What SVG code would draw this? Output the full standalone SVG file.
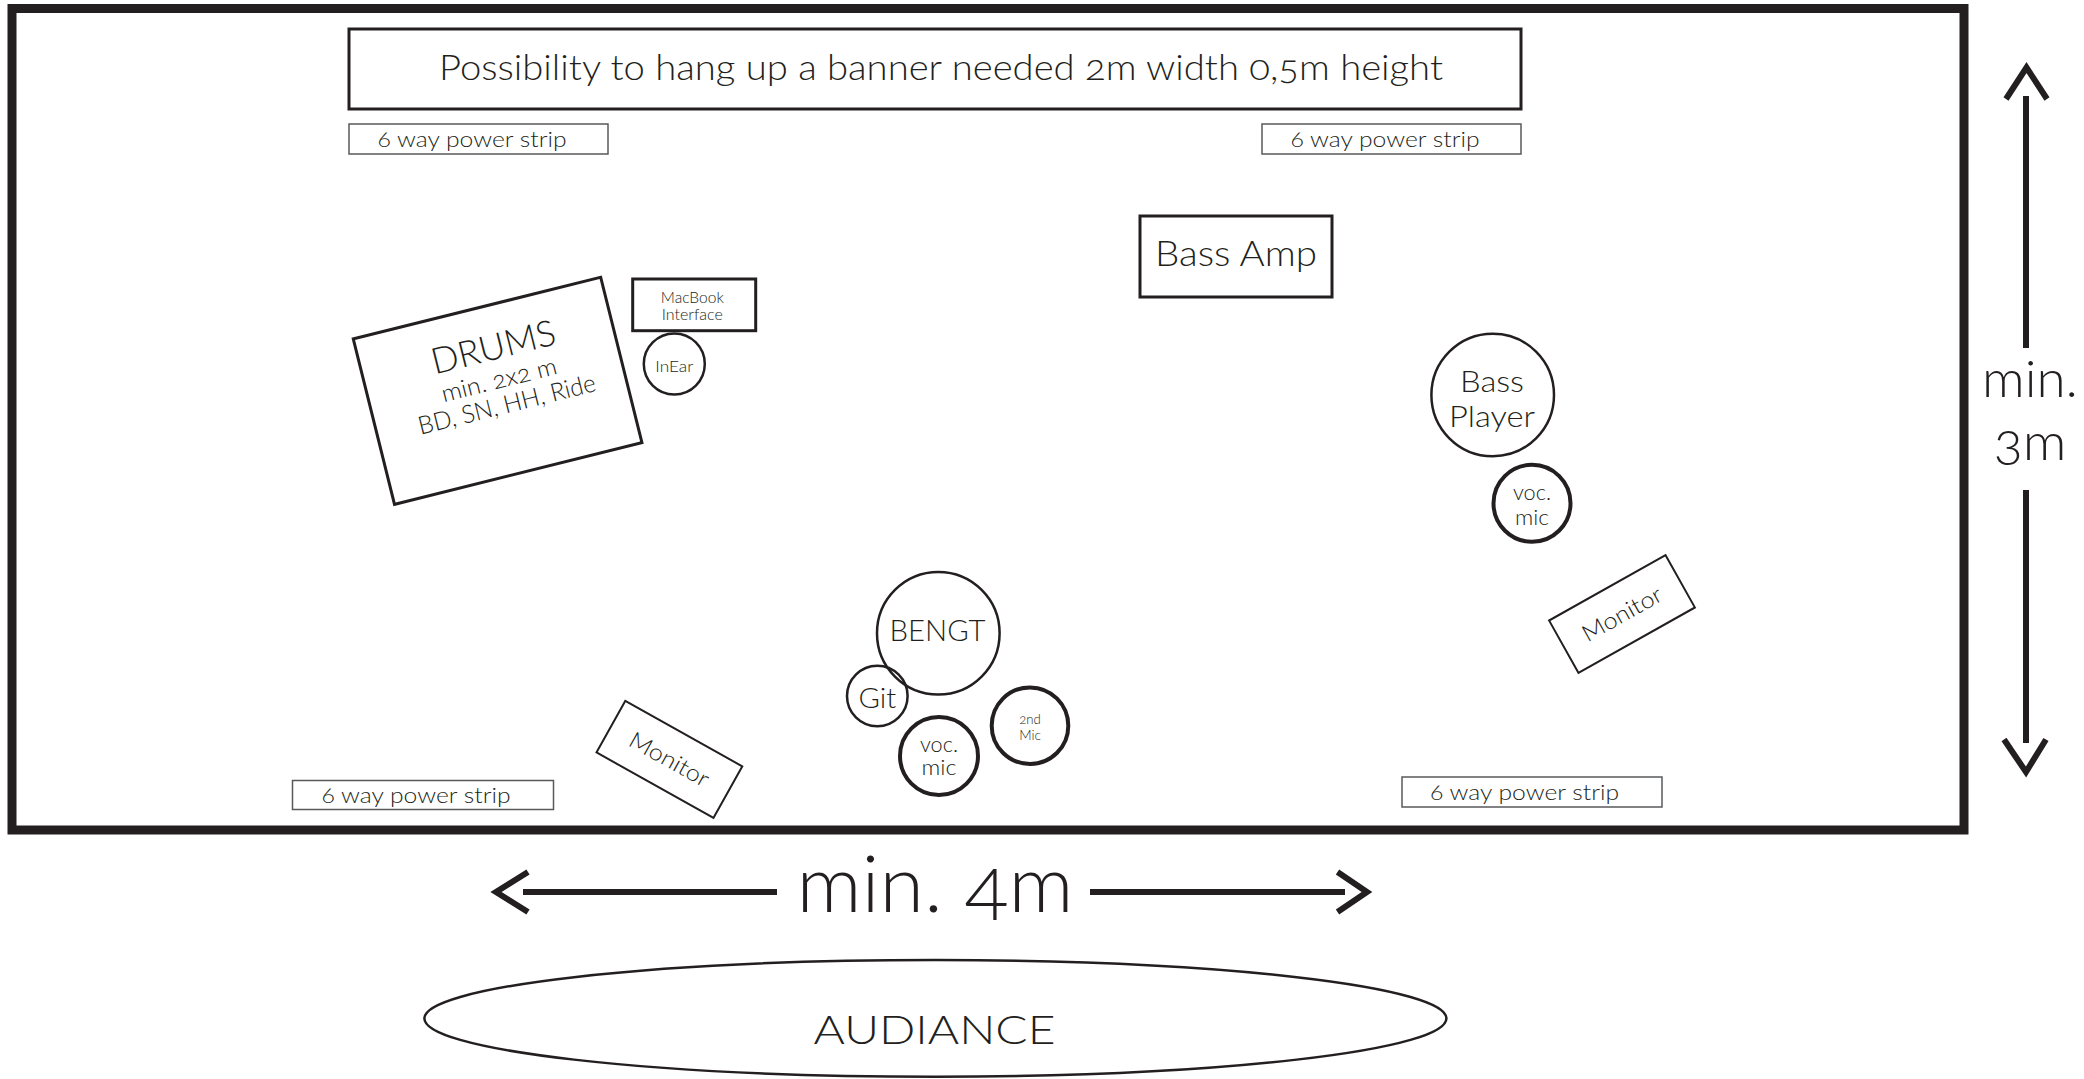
<svg xmlns="http://www.w3.org/2000/svg" width="2084" height="1079" viewBox="0 0 2084 1079">
<style>
text { font-family: Lato, "Open Sans", "Liberation Sans", sans-serif; font-weight: 300; fill: #231f20; text-anchor: middle; font-variant-numeric: oldstyle-nums; }
.st { text-anchor: start; font-size: 21px; }
.box { fill: #fff; stroke: #231f20; stroke-width: 3; }
.strip { fill: #fff; stroke: #58595b; stroke-width: 1.5; }
.mon { fill: #fff; stroke: #231f20; stroke-width: 2; }
.c { fill: none; stroke: #231f20; stroke-width: 2.5; }
.cb { fill: none; stroke: #231f20; stroke-width: 4; }
.dim { fill: none; stroke: #231f20; stroke-width: 6; }
</style>
<rect width="2084" height="1079" fill="#fff"/>
<g id="stage"><rect x="12" y="8.5" width="1952" height="821.5" fill="none" stroke="#231f20" stroke-width="9"/></g>

<g id="banner">
<rect class="box" x="349" y="29" width="1172" height="80"/>
<text x="941" y="80" font-size="35" textLength="1004" lengthAdjust="spacingAndGlyphs">Possibility to hang up a banner needed 2m width 0,5m height</text>
</g>

<g id="strip-top-left">
<rect class="strip" x="349" y="124" width="259" height="30"/>
<text class="st" x="377.5" y="147" textLength="189" lengthAdjust="spacingAndGlyphs">6 way power strip</text>
</g>
<g id="strip-top-right">
<rect class="strip" x="1262" y="124" width="259" height="30"/>
<text class="st" x="1290.5" y="147" textLength="189" lengthAdjust="spacingAndGlyphs">6 way power strip</text>
</g>
<g id="strip-bottom-left">
<rect class="strip" x="292.5" y="780.5" width="261" height="29"/>
<text class="st" x="321.5" y="802.5" textLength="189" lengthAdjust="spacingAndGlyphs">6 way power strip</text>
</g>
<g id="strip-bottom-right">
<rect class="strip" x="1402" y="777" width="260" height="30"/>
<text class="st" x="1430" y="799.5" textLength="189" lengthAdjust="spacingAndGlyphs">6 way power strip</text>
</g>

<g id="drums" transform="translate(497.6,390.8) rotate(-14)">
<rect class="box" x="-127.5" y="-85.25" width="255" height="170.5"/>
<text x="6.5" y="-31" font-size="36" textLength="127" lengthAdjust="spacingAndGlyphs">DRUMS</text>
<text x="4" y="-2" font-size="24" textLength="118" lengthAdjust="spacingAndGlyphs">min. 2x2 m</text>
<text x="5.6" y="24" font-size="25" textLength="182" lengthAdjust="spacingAndGlyphs">BD, SN, HH, Ride</text>
</g>

<g id="macbook">
<rect class="box" x="632.7" y="279" width="123" height="51.7"/>
<text x="692.3" y="302.7" font-size="15" textLength="63" lengthAdjust="spacingAndGlyphs">MacBook</text>
<text x="692.3" y="320" font-size="15" textLength="61" lengthAdjust="spacingAndGlyphs">Interface</text>
</g>

<g id="inear">
<circle class="c" cx="674.3" cy="364" r="30.5"/>
<text x="674.3" y="371.5" font-size="15" textLength="38" lengthAdjust="spacingAndGlyphs">InEar</text>
</g>

<g id="bass-amp">
<rect class="box" x="1140" y="216" width="192" height="81"/>
<text x="1236" y="265.5" font-size="35" textLength="162" lengthAdjust="spacingAndGlyphs">Bass Amp</text>
</g>

<g id="bass-player">
<circle class="c" cx="1492.7" cy="395" r="61.3"/>
<text x="1492" y="391.5" font-size="30" textLength="64" lengthAdjust="spacingAndGlyphs">Bass</text>
<text x="1492" y="427" font-size="30" textLength="86" lengthAdjust="spacingAndGlyphs">Player</text>
</g>

<g id="bass-voc-mic">
<circle class="cb" cx="1532" cy="503.3" r="38.5"/>
<text x="1532" y="500" font-size="21" textLength="38" lengthAdjust="spacingAndGlyphs">voc.</text>
<text x="1532" y="525" font-size="21" textLength="34" lengthAdjust="spacingAndGlyphs">mic</text>
</g>

<g id="monitor-right" transform="translate(1622,614) rotate(-29.3)">
<rect class="mon" x="-66.75" y="-30" width="133.5" height="60"/>
<text x="0" y="8" font-size="23" textLength="88" lengthAdjust="spacingAndGlyphs">Monitor</text>
</g>

<g id="monitor-left" transform="translate(669.4,759.4) rotate(29.2)">
<rect class="mon" x="-67" y="-29.5" width="134" height="59"/>
<text x="0" y="8" font-size="23" textLength="88" lengthAdjust="spacingAndGlyphs">Monitor</text>
</g>

<g id="bengt">
<circle class="c" cx="938.3" cy="633.3" r="61.3"/>
<text x="937.5" y="641" font-size="30" textLength="96" lengthAdjust="spacingAndGlyphs">BENGT</text>
</g>

<g id="git">
<circle class="c" cx="877.3" cy="696" r="30.3"/>
<text x="877.3" y="707.5" font-size="28" textLength="37.7" lengthAdjust="spacingAndGlyphs">Git</text>
</g>

<g id="bengt-voc-mic">
<circle class="cb" cx="939" cy="756" r="39"/>
<text x="939" y="751.5" font-size="21" textLength="38" lengthAdjust="spacingAndGlyphs">voc.</text>
<text x="939" y="775" font-size="21" textLength="35" lengthAdjust="spacingAndGlyphs">mic</text>
</g>

<g id="second-mic">
<circle class="cb" cx="1030" cy="725.7" r="38.3"/>
<text x="1030" y="724.3" font-size="14" textLength="21.7" lengthAdjust="spacingAndGlyphs">2nd</text>
<text x="1030" y="740" font-size="14" textLength="21.7" lengthAdjust="spacingAndGlyphs">Mic</text>
</g>

<g id="dimensions">
<line class="dim" x1="2026" y1="96" x2="2026" y2="348"/>
<polyline class="dim" points="2006,99 2026.5,67.5 2047,99"/>
<line class="dim" x1="2026" y1="490" x2="2026" y2="743"/>
<polyline class="dim" points="2004,739.5 2026,772 2046,739.5"/>
<text x="2030" y="397" font-size="52" textLength="96" lengthAdjust="spacingAndGlyphs">min.</text>
<text x="2030" y="460" font-size="52" textLength="73" lengthAdjust="spacingAndGlyphs">3m</text>
<line class="dim" x1="523" y1="892" x2="777" y2="892"/>
<polyline class="dim" points="528,872 496,892 528,912"/>
<line class="dim" x1="1090" y1="892" x2="1345" y2="892"/>
<polyline class="dim" points="1337.5,872 1367,892 1337.5,912"/>
<text x="935" y="911.7" font-size="78" textLength="277" lengthAdjust="spacingAndGlyphs">min. 4m</text>
</g>

<g id="audiance">
<ellipse cx="935.4" cy="1018.4" rx="511" ry="58.3" fill="none" stroke="#231f20" stroke-width="2.5"/>
<text x="934.5" y="1044" font-size="40" textLength="242" lengthAdjust="spacingAndGlyphs">AUDIANCE</text>
</g>
</svg>
